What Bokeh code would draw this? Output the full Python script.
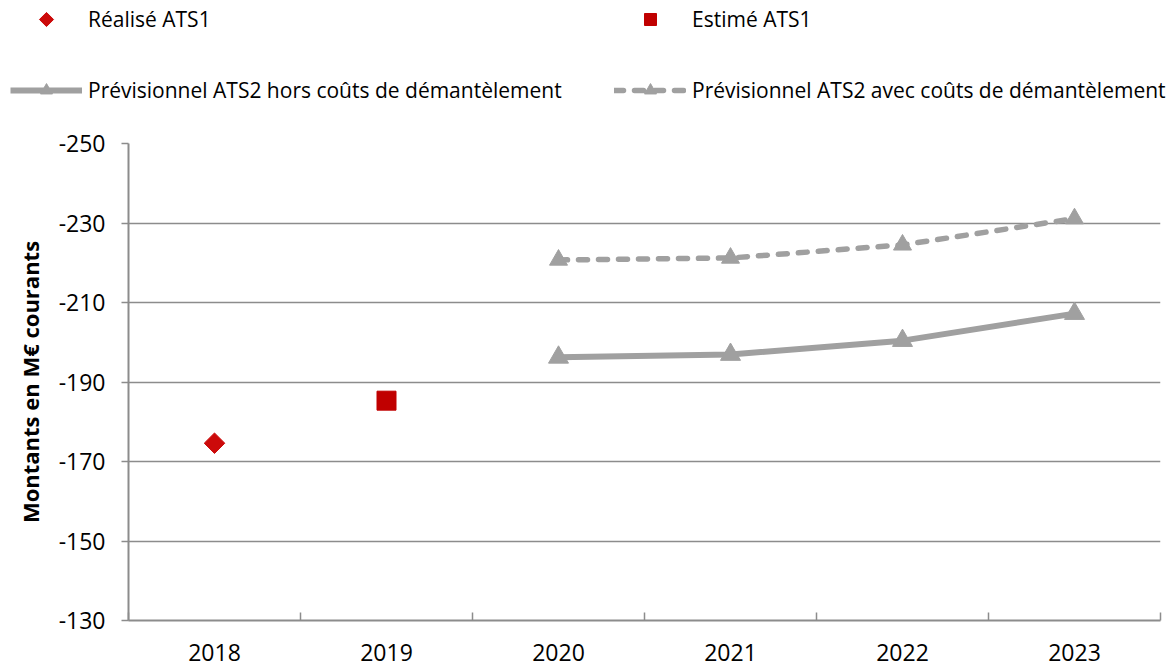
import math
from bokeh.plotting import figure
from bokeh.models import Range1d, FixedTicker, Legend, LegendItem
from bokeh.embed import file_html
from bokeh.resources import INLINE

# ---- data ----
years = [2018, 2019, 2020, 2021, 2022, 2023]
year_labels = ["2018", "2019", "2020", "2021", "2022", "2023"]
realise_years = [2018]
realise_values = [-174.6]
estime_years = [2019]
estime_values = [-185.3]
prev_years = [2020, 2021, 2022, 2023]
prev_hors = [-196.2, -196.9, -200.4, -207.2]
prev_avec = [-220.7, -221.2, -224.5, -231.1]
y_ticks = [-250, -230, -210, -190, -170, -150, -130]
y_tick_labels = ["-250", "-230", "-210", "-190", "-170", "-150", "-130"]
legend_labels = ["Réalisé ATS1", "Estimé ATS1",
                 "Prévisionnel ATS2 hors coûts de démantèlement",
                 "Prévisionnel ATS2 avec coûts de démantèlement"]
y_title = "Montants en M€ courants"

# ---- styles ----
FONT = "Open Sans"
GRAY = "#a0a0a0"
AXIS_GRAY = "#8c8c8c"
RED1 = "#cc0a0a"
RED2 = "#c00000"
W = 1175
LEG_H = 120
CH_H = 548

# ---- chart ----
p = figure(width=W, height=CH_H,
           x_range=Range1d(2017.5, 2023.5), y_range=Range1d(-130, -250),
           output_backend="svg", toolbar_location=None,
           min_border_left=128, min_border_right=15,
           min_border_top=23, min_border_bottom=48)
p.outline_line_color = None
p.xgrid.visible = False
p.ygrid.ticker = FixedTicker(ticks=y_ticks)
p.ygrid.grid_line_color = AXIS_GRAY
p.ygrid.grid_line_width = 1.5

xa = p.xaxis[0]
xa.ticker = FixedTicker(ticks=years, minor_ticks=[y - 0.5 for y in years] + [years[-1] + 0.5])
xa.major_label_overrides = {y: l for y, l in zip(years, year_labels)}
xa.major_tick_line_color = None
xa.major_tick_in = 0
xa.major_tick_out = 0
xa.minor_tick_in = 8
xa.minor_tick_out = 0
xa.minor_tick_line_color = AXIS_GRAY
xa.minor_tick_line_width = 1.5
xa.axis_line_color = AXIS_GRAY
xa.axis_line_width = 2
xa.major_label_text_font = FONT
xa.major_label_text_font_size = "23px"
xa.major_label_text_color = "black"
xa.major_label_standoff = 23

ya = p.yaxis[0]
ya.ticker = FixedTicker(ticks=y_ticks, minor_ticks=[])
ya.major_label_overrides = {t: l for t, l in zip(y_ticks, y_tick_labels)}
ya.major_tick_in = 0
ya.major_tick_out = 7
ya.major_tick_line_color = AXIS_GRAY
ya.major_tick_line_width = 1.5
ya.axis_line_color = AXIS_GRAY
ya.axis_line_width = 2
ya.major_label_text_font = FONT
ya.major_label_text_font_size = "23px"
ya.major_label_text_color = "black"
ya.major_label_standoff = 16
ya.axis_label = y_title
ya.axis_label_text_font = FONT
ya.axis_label_text_font_size = "22px"
ya.axis_label_text_font_style = "bold"
ya.axis_label_text_color = "black"
ya.axis_label_standoff = 11

p.line(prev_years, prev_hors, line_color=GRAY, line_width=6)
p.scatter(prev_years, prev_hors, marker="triangle", size=20, color=GRAY)
p.line(prev_years, prev_avec, line_color=GRAY, line_width=5.5, line_dash="9 11", line_cap="round")
p.scatter(prev_years, prev_avec, marker="triangle", size=18, color=GRAY)
p.scatter(realise_years, realise_values, marker="square", angle=math.pi / 4, size=14.5, color=RED1)
p.scatter(estime_years, estime_values, marker="square", size=19, color=RED2)

# ---- legend strip: its own root, frame covers the whole strip (pixel units) ----
leg = figure(width=W, height=LEG_H, x_range=Range1d(0, W), y_range=Range1d(LEG_H, 0),
             output_backend="svg", toolbar_location=None, min_border=0,
             x_axis_location=None, y_axis_location=None)
leg.outline_line_color = None
leg.grid.visible = False

COL_X = [10, 614]      # left of swatch area for each legend column
ROW_Y = [19, 90]       # centre of each legend row
GLYPH_W = 72

# helper renderers for the legend swatches, placed outside the strip's visible range
off_x = [-20, -19]
off_y = [-20, -20]
d_real = leg.scatter(off_x[:1], off_y[:1], marker="square", size=12, color=RED1, alpha=0)
d_est = leg.scatter(off_x[:1], off_y[:1], marker="square", size=12, color=RED2)
d_hl = leg.line(off_x, off_y, line_color=GRAY, line_width=6)
d_hp = leg.scatter(off_x[:1], off_y[:1], marker="triangle", size=12, color=GRAY)
d_al = leg.line(off_x, off_y, line_color=GRAY, line_width=5.5, line_dash="9 11", line_cap="round")
d_ap = leg.scatter(off_x[:1], off_y[:1], marker="triangle", size=12, color=GRAY)

# the diamond swatch (legend swatches cannot be rotated), centred in the first swatch area
leg.scatter([COL_X[0] + GLYPH_W / 2], [ROW_Y[0]], marker="square", angle=math.pi / 4,
            size=10, color=RED1)


def make_legend(items, x):
    return Legend(items=items, location=(x, LEG_H - (ROW_Y[0] - 15) - 101), orientation="vertical",
                  padding=0, margin=0, spacing=41,
                  glyph_width=GLYPH_W, glyph_height=30, label_height=30, label_standoff=6,
                  label_text_font=FONT, label_text_font_size="21px", label_text_color="black",
                  background_fill_alpha=0, border_line_color=None)


leg.add_layout(make_legend([LegendItem(label=legend_labels[0], renderers=[d_real]),
                            LegendItem(label=legend_labels[2], renderers=[d_hl, d_hp])], COL_X[0]))
leg.add_layout(make_legend([LegendItem(label=legend_labels[1], renderers=[d_est]),
                            LegendItem(label=legend_labels[3], renderers=[d_al, d_ap])], COL_X[1]))

open("out.html", "w").write(file_html([leg, p], INLINE))
